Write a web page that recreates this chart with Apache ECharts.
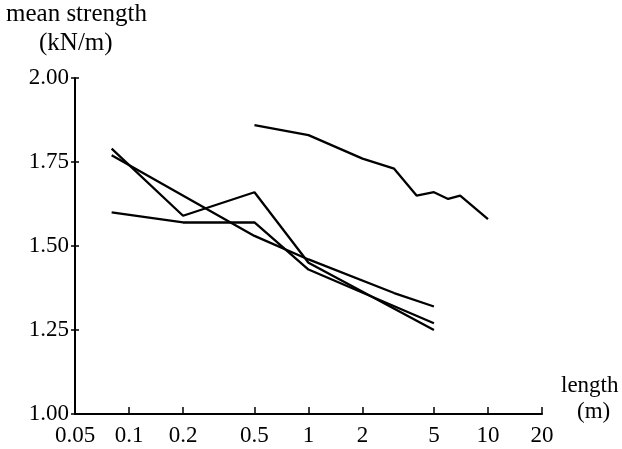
<!DOCTYPE html>
<html>
<head>
<meta charset="utf-8">
<script src="https://cdn.jsdelivr.net/npm/echarts@6/dist/echarts.min.js"></script>
<style>
html,body{margin:0;padding:0;background:#fff;}
#chart{width:622px;height:449px;}
</style>
</head>
<body>
<div id="chart"></div>
<script>
// Data
var xTicks = [0.05, 0.1, 0.2, 0.5, 1, 2, 5, 10, 20];
var yTicks = [1.00, 1.25, 1.50, 1.75, 2.00];

var lenA = [0.08, 0.2, 0.5, 1, 5];
var strA = [1.79, 1.59, 1.66, 1.45, 1.25];

var lenB = [0.08, 0.5, 1, 3, 5];
var strB = [1.77, 1.53, 1.46, 1.36, 1.32];

var lenC = [0.08, 0.2, 0.5, 1, 5];
var strC = [1.60, 1.57, 1.57, 1.43, 1.27];

var lenD = [0.5, 1, 2, 3, 4, 5, 6, 7, 10];
var strD = [1.86, 1.83, 1.76, 1.73, 1.65, 1.66, 1.64, 1.65, 1.58];

var FONT = '"Liberation Serif", "DejaVu Serif", serif';

function pairs(xs, ys) { return xs.map(function (x, i) { return [x, ys[i]]; }); }

function lineSeries(xs, ys) {
  return {
    type: 'line',
    data: pairs(xs, ys),
    symbol: 'none',
    lineStyle: { color: '#000', width: 2.3 },
    silent: true,
    z: 3
  };
}

var chart = echarts.init(document.getElementById('chart'), null, { renderer: 'canvas' });
var option = {
  animation: false,
  backgroundColor: '#fff',
  grid: { left: 75, right: 80, top: 78, bottom: 35, containLabel: false },
  xAxis: {
    type: 'log',
    logBase: 10,
    min: 0.05,
    max: 20,
    splitLine: { show: false },
    axisLine: { show: true, lineStyle: { color: '#000', width: 2 } },
    axisTick: { show: true, inside: true, length: 7, customValues: xTicks, lineStyle: { color: '#000', width: 1.5 } },
    axisLabel: {
      customValues: xTicks,
      color: '#000', fontFamily: FONT, fontSize: 23, margin: 10,
      formatter: function (v) { return String(+v.toPrecision(3)); }
    },
    minorTick: { show: false }
  },
  yAxis: [{
    type: 'value',
    min: 1,
    max: 2,
    interval: 0.25,
    splitLine: { show: false },
    axisLine: { show: true, lineStyle: { color: '#000', width: 2 } },
    axisTick: { show: true, inside: false, length: 4, lineStyle: { color: '#000', width: 1.5 } },
    axisLabel: {
      color: '#000', fontFamily: FONT, fontSize: 23, margin: 6,
      formatter: function (v) { return v.toFixed(2); }
    }
  }, {
    type: 'value',
    position: 'left',
    min: 1,
    max: 2,
    interval: 0.25,
    splitLine: { show: false },
    axisLine: { show: false },
    axisTick: { show: true, inside: true, length: 4, lineStyle: { color: '#000', width: 1.5 } },
    axisLabel: { show: false }
  }],
  series: [
    lineSeries(lenA, strA),
    lineSeries(lenB, strB),
    lineSeries(lenC, strC),
    lineSeries(lenD, strD)
  ],
  graphic: [
    { type: 'text', left: 6, top: 2, style: { text: 'mean strength', font: '25px ' + FONT, fill: '#000' } },
    { type: 'text', left: 39, top: 31, style: { text: '(kN/m)', font: '25px ' + FONT, fill: '#000' } },
    { type: 'text', left: 561, top: 374, style: { text: 'length', font: '23px ' + FONT, fill: '#000' } },
    { type: 'text', left: 577, top: 400, style: { text: '(m)', font: '23px ' + FONT, fill: '#000' } }
  ]
};
chart.setOption(option);
</script>
</body>
</html>
